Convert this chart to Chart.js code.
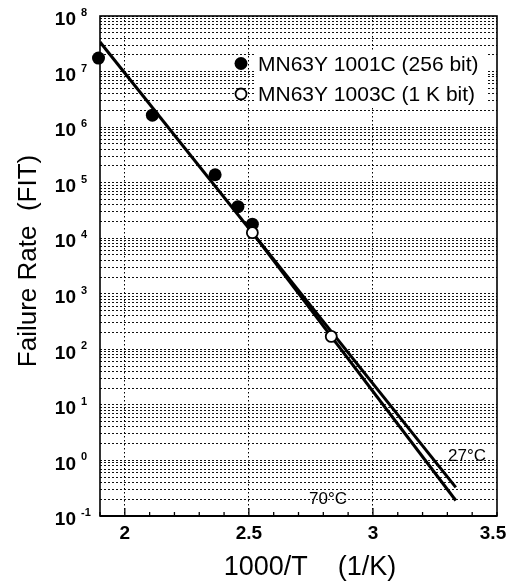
<!DOCTYPE html>
<html>
<head>
<meta charset="utf-8">
<script src="https://cdn.jsdelivr.net/npm/chart.js@4"></script>
<style>
    body { margin: 0; background: #fff; }
    canvas { display: block; }
</style>
</head>
<body>
<canvas id="grafPoruchovost" width="517" height="582"></canvas>
<script>
// MN63Y1001C (256 bit) - plne body
const x256 = [1.894, 2.111, 2.364, 2.456, 2.514];
const fit256 = [1.75e7, 1.64e6, 1.39e5, 3.7e4, 1.79e4];
// MN63Y1003C (1 K bit) - prazdne body
const x1k = [2.514, 2.832];
const fit1k = [1.26e4, 171];
// prolozene primky
const xHorni = [1.9, 3.334];
const fitHorni = [3.4e7, 0.327];
const xDolni = [2.514, 3.334];
const fitDolni = [1.26e4, 0.19];

const xPopisky = [2, 2.5, 3, 3.5];
const xMrizka = [2, 2.5, 3];
const yExponenty = [-1, 0, 1, 2, 3, 4, 5, 6, 7, 8];
const legendaTexty = ['MN63Y 1001C (256 bit)', 'MN63Y 1003C (1 K bit)'];
const teplotyTexty = ['27°C', '70°C'];

const pismo = '"Liberation Sans", Arial, Helvetica, sans-serif';

function body(xs, ys) {
    return xs.map((x, i) => ({ x: x, y: ys[i] }));
}

const popisky = {
    id: 'popisky',
    beforeDatasetsDraw(chart) {
        const ctx = chart.ctx;
        // bily podklad pod legendou
        ctx.save();
        ctx.fillStyle = '#fff';
        ctx.fillRect(254, 50, 233, 58);
        ctx.restore();
    },
    afterDraw(chart) {
        const ctx = chart.ctx;
        const sx = chart.scales.x;
        const sy = chart.scales.y;
        const a = chart.chartArea;
        ctx.save();

        // ramecek
        ctx.strokeStyle = '#000';
        ctx.lineWidth = 1.6;
        ctx.strokeRect(a.left, a.top, a.right - a.left, a.bottom - a.top);
        ctx.lineWidth = 2.2;
        ctx.beginPath();
        ctx.moveTo(a.left, a.bottom);
        ctx.lineTo(a.right, a.bottom);
        ctx.stroke();

        // znacky na ose x (po 0.1)
        ctx.lineWidth = 1.3;
        for (let i = 0; i <= 16; i++) {
            const v = 1.9 + i * 0.1;
            const px = sx.getPixelForValue(v);
            const hlavni = xMrizka.some(m => Math.abs(m - v) < 1e-6);
            ctx.beginPath();
            ctx.moveTo(px, a.bottom);
            ctx.lineTo(px, a.bottom - (hlavni ? 8 : 4));
            ctx.stroke();
        }

        // popisky osy x
        ctx.fillStyle = '#000';
        ctx.font = 'bold 19px ' + pismo;
        ctx.textAlign = 'center';
        ctx.textBaseline = 'middle';
        xPopisky.forEach(v => {
            ctx.fillText(String(v), sx.getPixelForValue(v) - (v === 3.5 ? 4 : 0), 534);
        });

        // popisky osy y: 10 a exponent
        yExponenty.forEach(e => {
            const py = sy.getPixelForValue(Math.pow(10, e));
            ctx.font = 'bold 19px ' + pismo;
            ctx.textAlign = 'right';
            ctx.textBaseline = 'middle';
            ctx.fillText('10', 76, py + 4);
            ctx.font = 'bold 11px ' + pismo;
            ctx.textAlign = 'left';
            ctx.fillText(String(e), 81, py - 3);
        });

        // nazvy os
        ctx.font = '27px ' + pismo;
        ctx.textAlign = 'center';
        ctx.textBaseline = 'middle';
        ctx.fillText('1000/T    (1/K)', 310, 568);
        ctx.save();
        ctx.translate(29, 261);
        ctx.rotate(-Math.PI / 2);
        ctx.font = '26px ' + pismo;
        ctx.fillText('Failure Rate  (FIT)', 0, 0);
        ctx.restore();

        // legenda
        ctx.font = '21px ' + pismo;
        ctx.textAlign = 'left';
        ctx.textBaseline = 'middle';
        ctx.fillText(legendaTexty[0], 258, 65);
        ctx.fillText(legendaTexty[1], 258, 95);
        ctx.beginPath();
        ctx.arc(241, 63.5, 6.5, 0, Math.PI * 2);
        ctx.fill();
        ctx.beginPath();
        ctx.arc(241, 94, 5.5, 0, Math.PI * 2);
        ctx.fillStyle = '#fff';
        ctx.fill();
        ctx.lineWidth = 1.8;
        ctx.stroke();

        // teploty
        ctx.fillStyle = '#000';
        ctx.font = '17px ' + pismo;
        ctx.textAlign = 'center';
        ctx.fillText(teplotyTexty[0], 467, 456);
        ctx.fillText(teplotyTexty[1], 328, 499);

        ctx.restore();
    }
};

const ctx = document.getElementById('grafPoruchovost').getContext('2d');
window.grafPoruchovost = new Chart(ctx, {
    type: 'scatter',
    data: {
        datasets: [
            {
                label: legendaTexty[1],
                data: body(x1k, fit1k),
                pointRadius: 5.5,
                pointBackgroundColor: '#fff',
                pointBorderColor: '#000',
                pointBorderWidth: 1.8,
                clip: false,
                order: 0
            },
            {
                label: legendaTexty[0],
                data: body(x256, fit256),
                pointRadius: 6.5,
                pointBackgroundColor: '#000',
                pointBorderColor: '#000',
                pointBorderWidth: 0,
                clip: false,
                order: 1
            },
            {
                label: 'horni',
                data: body(xHorni, fitHorni),
                showLine: true,
                pointRadius: 0,
                borderColor: '#000',
                borderWidth: 3,
                order: 2
            },
            {
                label: 'dolni',
                data: body(xDolni, fitDolni),
                showLine: true,
                pointRadius: 0,
                borderColor: '#000',
                borderWidth: 3,
                order: 2
            }
        ]
    },
    options: {
        responsive: false,
        animation: false,
        layout: { padding: { left: 100, top: 16, right: 20, bottom: 66 } },
        plugins: {
            legend: { display: false },
            tooltip: { enabled: false }
        },
        scales: {
            x: {
                type: 'linear',
                min: 1.9,
                max: 3.5,
                afterBuildTicks: scale => {
                    scale.ticks = xMrizka.map(v => ({ value: v }));
                },
                ticks: { display: false },
                grid: { color: '#000', lineWidth: 1, drawTicks: false },
                border: { display: false, dash: [1.5, 2.5] }
            },
            y: {
                type: 'logarithmic',
                min: 0.1,
                max: 1e8,
                afterBuildTicks: scale => {
                    const t = [];
                    yExponenty.forEach(e => {
                        for (let m = 1; m <= 9; m++) {
                            const v = m * Math.pow(10, e);
                            if (v <= 1e8) t.push({ value: v });
                        }
                    });
                    scale.ticks = t;
                },
                ticks: { display: false },
                grid: { color: '#111', lineWidth: 1, drawTicks: false },
                border: { display: false, dash: [2, 2] }
            }
        }
    },
    plugins: [popisky]
});
</script>
</body>
</html>
